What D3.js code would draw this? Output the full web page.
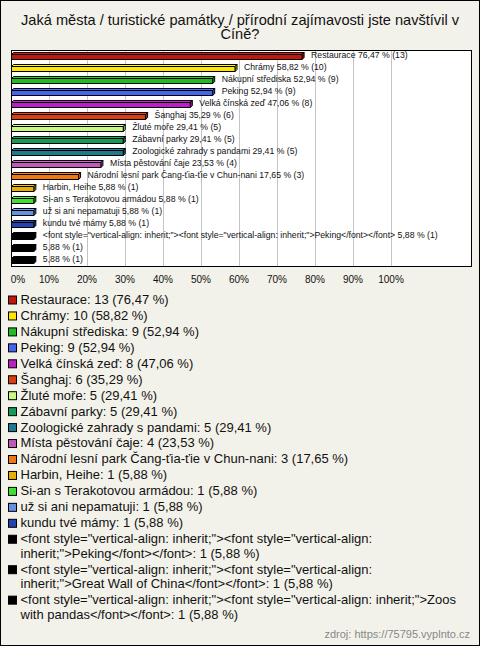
<!DOCTYPE html>
<html><head><meta charset="utf-8">
<script src="https://cdn.jsdelivr.net/npm/d3@7"></script>
<style>body{margin:0;background:#fff}svg{display:block}text{font-family:Arial,"Liberation Sans",sans-serif}</style>
</head><body><svg id="c" width="480" height="646"></svg>
<script>
const title = ["Jaká města / turistické památky / přírodní zajímavosti jste navštívil v", "Číně?"];
const categories = [
  "Restaurace","Chrámy","Nákupní střediska","Peking","Velká čínská zeď","Šanghaj","Žluté moře","Zábavní parky",
  "Zoologické zahrady s pandami","Místa pěstování čaje","Národní lesní park Čang-ťia-ťie v Chun-nani","Harbin, Heihe",
  "Si-an s Terakotovou armádou","už si ani nepamatuji","kundu tvé mámy",
  "<font style=\"vertical-align: inherit;\"><font style=\"vertical-align: inherit;\">Peking</font></font>",
  "<font style=\"vertical-align: inherit;\"><font style=\"vertical-align: inherit;\">Great Wall of China</font></font>",
  "<font style=\"vertical-align: inherit;\"><font style=\"vertical-align: inherit;\">Zoos with pandas</font></font>"
];
// bar labels shown in the chart (last two render empty text in the original)
const barLabels = categories.map((c,i)=> i>=16 ? "" : c);
const counts = [13,10,9,9,8,6,5,5,5,4,3,1,1,1,1,1,1,1];
const percents = [76.47,58.82,52.94,52.94,47.06,35.29,29.41,29.41,29.41,23.53,17.65,5.88,5.88,5.88,5.88,5.88,5.88,5.88];
const colors = ["#c4170c","#ffe600","#1fbd1f","#4466ee","#bb1fc6","#dd3c0f","#c8fa82","#139c58","#1e7a8e","#c258be","#ef7812","#e6b000","#3fe030","#6592e0","#2343b0","#000000","#000000","#000000"];
const ticks = [0,10,20,30,40,50,60,70,80,90,100];
const source = "zdroj: https://75795.vyplnto.cz";

const svg = d3.select("#c");
svg.append("rect").attr("x",0.5).attr("y",0.5).attr("width",479).attr("height",645)
  .attr("fill","#f3f2ea").attr("stroke","#000");

const tg = svg.append("g");
title.forEach((t,i)=>tg.append("text").attr("x",240).attr("y",24.5+i*14.5)
  .attr("text-anchor","middle").attr("font-size",14.6).attr("fill","#111").text(t));

const L=11, R=471, T=50, B=266;
const x = d3.scaleLinear().domain([0,100]).range([L, L+380]);
const y = d3.scaleBand().domain(d3.range(categories.length)).range([T, B]);

svg.append("rect").attr("x",L+0.5).attr("y",T+0.5).attr("width",R-L).attr("height",B-T)
  .attr("fill","#fff").attr("stroke","none");
svg.append("g").selectAll("line").data(ticks.slice(1)).join("line")
  .attr("x1",d=>Math.round(x(d))+0.5).attr("x2",d=>Math.round(x(d))+0.5)
  .attr("y1",T).attr("y2",B).attr("stroke","#c4c4c4");
svg.append("rect").attr("x",L+0.5).attr("y",T+0.5).attr("width",R-L).attr("height",B-T)
  .attr("fill","none").attr("stroke","#000");

const d=2;
const bars = svg.append("g");
percents.forEach((p,i)=>{
  const c = y(i)+y.bandwidth()/2;
  const x0 = x(0)+0.5, x1 = x(p)+0.5;
  const yt = Math.round(c)-1.5, yb = Math.round(c)+3.5;
  const g = bars.append("g").attr("stroke","#000").attr("stroke-width",1).attr("stroke-linejoin","round");
  const col = d3.color(colors[i]);
  g.append("path").attr("d",`M${x0},${yt}L${x0+d},${yt-d}L${x1+d},${yt-d}L${x1},${yt}Z`).attr("fill",colors[i]==="#000000"?"#000":col.brighter(0.3));
  g.append("path").attr("d",`M${x1},${yt}L${x1+d},${yt-d}L${x1+d},${yb-d}L${x1},${yb}Z`).attr("fill",colors[i]==="#000000"?"#000":col.darker(0.5));
  g.append("rect").attr("x",x0).attr("y",yt).attr("width",x1-x0).attr("height",yb-yt).attr("fill",colors[i]);
  const lbl = (barLabels[i] ? barLabels[i]+" " : "") + d3.format(".2f")(p).replace(".",",")+" % ("+counts[i]+")";
  bars.append("text").attr("x",x1+d+7).attr("y",c-0.5).attr("dominant-baseline","middle")
    .attr("font-size",8.7).attr("fill","#111").text(lbl);
});

svg.append("g").selectAll("text").data(ticks).join("text")
  .attr("x",(t,i)=> i===0 ? x(t)+7 : x(t)).attr("y",283).attr("text-anchor","middle")
  .attr("font-size",10).attr("fill","#111").text(t=>t+"%");

// legend
const lg = svg.append("g");
let ly = 300.5;
const maxW = 437;
categories.forEach((cat,i)=>{
  const txt = cat+": "+counts[i]+" ("+d3.format(".2f")(percents[i]).replace(".",",")+" %)";
  lg.append("rect").attr("x",8.5).attr("y",ly-4.5).attr("width",8).attr("height",8)
    .attr("fill",colors[i]).attr("stroke","#000");
  const words = txt.split(" ");
  let line = "", lines=[];
  const tmp = lg.append("text").attr("font-size",13);
  words.forEach(w=>{
    const test = line ? line+" "+w : w;
    tmp.text(test);
    if (tmp.node().getComputedTextLength() > maxW && line) { lines.push(line); line = w; }
    else line = test;
  });
  lines.push(line); tmp.remove();
  lines.forEach((ln,k)=>{
    lg.append("text").attr("x",20.5).attr("y",ly+k*14.5).attr("dominant-baseline","middle")
      .attr("font-size",13).attr("fill","#111").text(ln);
  });
  ly += 15.95 + (lines.length-1)*14.5;
});

svg.append("text").attr("x",470).attr("y",638).attr("text-anchor","end")
  .attr("font-size",11).attr("fill","#888").text(source);
</script></body></html>
